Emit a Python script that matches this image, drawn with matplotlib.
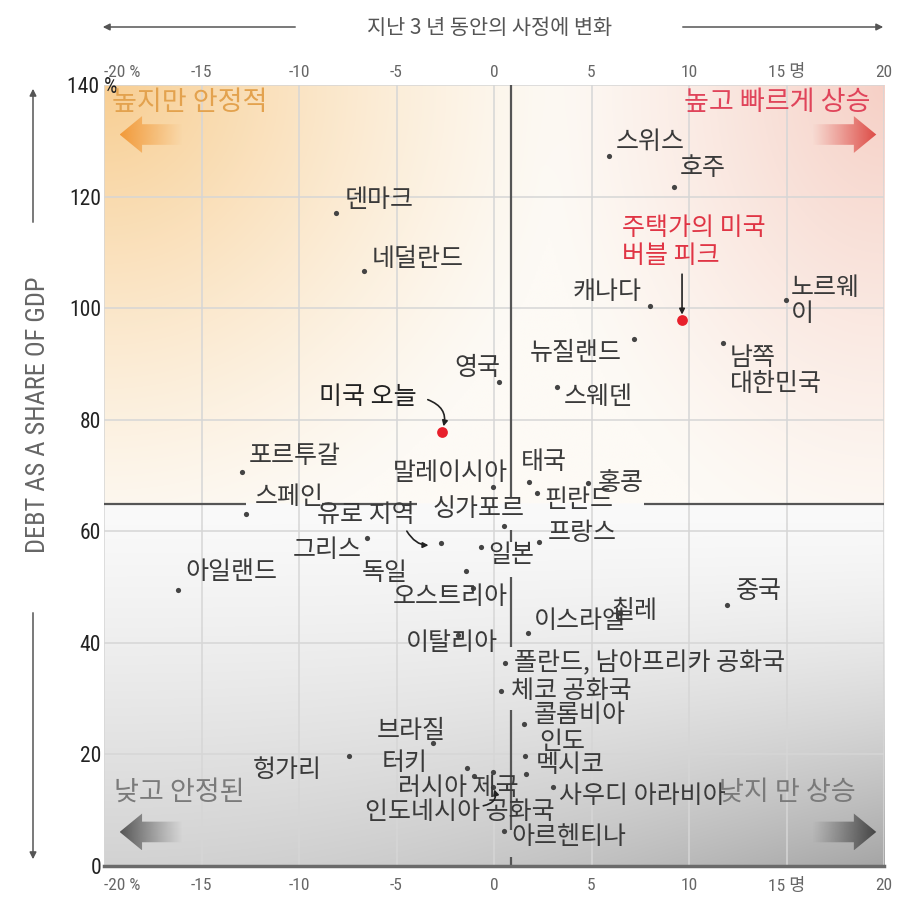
import numpy as np
import matplotlib
matplotlib.use("Agg")
import matplotlib.pyplot as plt
from matplotlib.patches import Polygon, FancyArrowPatch
from matplotlib.transforms import ScaledTranslation
from matplotlib import font_manager

plt.rcParams['font.family'] = ['Noto Sans CJK KR', 'DejaVu Sans']

# change over the last 3 years (x) vs household debt as share of GDP (y)
countries = ['스위스', '호주', '덴마크', '네덜란드', '캐나다', '노르웨\n이', '뉴질랜드',
             '남쪽\n대한민국', '영국', '스웨덴', '포르투갈', '스페인', '아일랜드',
             '말레이시아', '태국', '홍콩', '핀란드', '싱가포르', '유로 지역', '그리스',
             '일본', '프랑스', '독일', '오스트리아', '중국', '칠레', '이스라엘', '이탈리아',
             '폴란드, 남아프리카 공화국', '체코 공화국', '콜롬비아', '인도', '멕시코',
             '사우디 아라비아', '아르헨티나', '브라질', '헝가리', '터키', '러시아 제국', '',
             '인도네시아 공화국']
change = [5.9, 9.24, -8.09, -6.69, 7.99, 14.98, 7.17,
          11.74, 0.23, 3.23, -12.9, -12.7, -16.2,
          -0.03, 1.78, 4.83, 2.2, 0.51, -2.73, -6.49,
          -0.65, 2.3, -1.44, -1.07, 11.96, 6.45, 1.72, -1.83,
          0.54, 0.34, 1.51, 1.59, 1.63,
          3.04, 0.51, -3.11, -7.45, -1.39, -1.04, -0.04,
          -0.04]
debt = [127.4, 121.7, 117.1, 106.7, 100.4, 101.5, 94.5,
        93.8, 86.8, 86.0, 70.7, 63.1, 49.5,
        68.0, 68.9, 68.7, 66.9, 60.9, 57.9, 58.8,
        57.2, 58.1, 52.9, 49.9, 46.8, 45.3, 41.7, 41.4,
        36.4, 31.4, 25.4, 19.7, 16.5,
        14.1, 6.2, 22.0, 19.7, 17.5, 16.1, 16.9,
        14.2]

us_labels = ['미국 오늘', '주택가의 미국\n버블 피크']
us_change = [-2.68, 9.64]
us_debt = [77.9, 97.9]

x_ticks = [-20, -15, -10, -5, 0, 5, 10, 15, 20]
x_ticklabels = ['-20 %', '-15', '-10', '-5', '0', '5', '10', '15 명', '20']
y_ticks = [0, 20, 40, 60, 80, 100, 120, 140]
y_ticklabels = ['0', '20', '40', '60', '80', '100', '120', '140 %']

divider_x = 0.85
divider_y = 65

# label placement: (dx px, dy px, ha)
label_pos = [(7, 14, 'left'), (6, 19, 'left'), (8, 13, 'left'), (8, 12, 'left'),
             (-8, 14, 'right'), (5, -1, 'left'), (-12, -14, 'right'),
             (7, -28, 'left'), (2, 14, 'right'), (7, -10, 'left'), (6, 16, 'left'),
             (8, 17, 'left'), (7, 18, 'left'),
             (-43, 14, 'center'), (-8, 20, 'left'), (10, 0, 'left'), (7, -7, 'left'),
             (-25, 17, 'center'), (-26, 28, 'right'), (-6, -12, 'right'),
             (7, -8, 'left'), (9, 9, 'left'), (-58, -2, 'right'), (-23, -9, 'center'),
             (8, 14, 'left'), (15, 2, 'center'), (6, 12, 'left'), (-6, -8, 'center'),
             (9, 0, 'left'), (10, 0, 'left'), (10, 9, 'left'), (14, 14, 'left'),
             (10, 9, 'left'), (6, -9, 'left'), (7, -6, 'left'), (12, 12, 'right'),
             (-27, -14, 'right'), (-39, 5, 'right'), (-15, -12, 'center'), (0, 0, 'left'),
             (-33, -25, 'center')]

installed = {f.name for f in font_manager.fontManager.ttflist}
narrow_name = next((n for n in ['Liberation Sans Narrow', 'DejaVu Sans Condensed',
                                'Roboto Condensed', 'Open Sans Condensed']
                    if n in installed), 'Liberation Sans')
narrow = [narrow_name, 'Noto Sans CJK KR']

fig = plt.figure(figsize=(9, 9.15), dpi=100)
ax = fig.add_axes([0.1156, 0.0536, 0.8667, 0.853])
ax.set_xlim(-20, 20)
ax.set_ylim(0, 140)

# background gradient
nx, ny = 400, 700
gx = np.linspace(-20, 20, nx)
gy = np.linspace(0, 140, ny)
X, Y = np.meshgrid(gx, gy)
t = (X + 20) / 40
up = Y >= divider_y
u = np.clip((Y - divider_y) / (140 - divider_y), 0, 1)
wo = np.clip(1 - np.hypot(t / 0.6, (1 - u) / 1.15), 0, 1) ** 1.3
wr = np.clip(1 - np.hypot((1 - t) / 0.45, (1 - u) / 1.15), 0, 1) ** 1.3
base = np.array([253, 250, 245]) / 255
orange = np.array([248, 206, 146]) / 255
pink = np.array([246, 208, 198]) / 255
upper = base * (1 - wo - wr)[..., None] + orange * wo[..., None] + pink * wr[..., None]
v = np.clip((divider_y - Y) / divider_y, 0, 1)
g = (250 - 40 * v ** 1.3 - 45 * (v ** 2) * (t ** 2)) / 255
lower = np.stack([g, g, g], axis=-1)
img = np.where(up[..., None], upper, lower)
ax.imshow(img, extent=[-20, 20, 0, 140], origin='lower', aspect='auto', zorder=0)

ax.set_xticks(x_ticks)
ax.set_yticks(y_ticks)
ax.grid(True, color='#d6d6d6', lw=1.1, zorder=1)
ax.set_axisbelow(False)
for s in ['top', 'right', 'left']:
    ax.spines[s].set_visible(False)
ax.spines['bottom'].set_color('#6a6a6a')
ax.spines['bottom'].set_linewidth(2.5)
ax.spines['bottom'].set_zorder(3)
ax.tick_params(length=0)
ax.tick_params(axis='x', pad=9, labelcolor='#666666')
ax.tick_params(axis='y', pad=2, labelcolor='#222222')
ax.set_xticklabels(x_ticklabels, family=narrow, fontsize=12.5)
ax.set_yticklabels(y_ticklabels, family=narrow, fontsize=15.5)
ax.xaxis.get_major_ticks()[0].label1.set_ha('left')
top_lab = ax.yaxis.get_major_ticks()[-1].label1
top_lab.set_transform(top_lab.get_transform() + ScaledTranslation(0.16, 0, fig.dpi_scale_trans))

sec = ax.secondary_xaxis('top')
sec.set_xticks(x_ticks)
sec.set_xticklabels(x_ticklabels, family=narrow, fontsize=12.5)
sec.tick_params(length=0, pad=4, labelcolor='#666666')
sec.spines['top'].set_visible(False)
sec.xaxis.get_major_ticks()[0].label2.set_ha('left')

# quadrant dividers (broken behind labels)
for y0, y1 in [(66.2, 140), (58.1, 60.3), (39.3, 51.8), (6.5, 28.0), (0, 1.6)]:
    ax.plot([divider_x, divider_x], [y0, y1], color='#555555', lw=1.6, zorder=3,
            solid_capstyle='butt')
for x0, x1 in [(-20, -12.7), (-8.8, -3.95), (7.7, 20)]:
    ax.plot([x0, x1], [divider_y, divider_y], color='#555555', lw=1.6, zorder=3,
            solid_capstyle='butt')


def fat_arrow(x_tail, x_tip, yc, color):
    head_len = 1.15
    head_half = 3.3
    shaft_half = 1.85
    d = np.sign(x_tip - x_tail)
    hb = x_tip - d * head_len
    pts = [(x_tail, yc - shaft_half), (hb, yc - shaft_half), (hb, yc - head_half),
           (x_tip, yc), (hb, yc + head_half), (hb, yc + shaft_half),
           (x_tail, yc + shaft_half)]
    poly = Polygon(pts, closed=True, facecolor='none', edgecolor='none')
    ax.add_patch(poly)
    grad = np.zeros((2, 100, 4))
    grad[..., :3] = matplotlib.colors.to_rgb(color)
    a = np.linspace(0, 1, 100) ** 1.1
    grad[..., 3] = a if d > 0 else a[::-1]
    lo, hi = min(x_tail, x_tip), max(x_tail, x_tip)
    im = ax.imshow(grad, extent=[lo, hi, yc - head_half, yc + head_half],
                   aspect='auto', zorder=2, interpolation='bilinear')
    im.set_clip_path(poly)


fat_arrow(-16.0, -19.2, 131.2, '#f29a3a')
fat_arrow(16.3, 19.6, 131.2, '#dd4a45')
fat_arrow(-16.0, -19.2, 6.1, '#555555')
fat_arrow(16.3, 19.6, 6.1, '#444444')

qfont = 19.5
ax.text(0.010, 0.978, '높지만 안정적', transform=ax.transAxes, fontsize=qfont,
        color='#e3a24e', ha='left', va='center', zorder=4)
ax.text(0.983, 0.978, '높고 빠르게 상승', transform=ax.transAxes, fontsize=qfont,
        color='#e0445a', ha='right', va='center', zorder=4)
ax.text(0.013, 0.094, '낮고 안정된', transform=ax.transAxes, fontsize=qfont,
        color='#7a7a7a', ha='left', va='center', zorder=4)
ax.text(0.963, 0.094, '낮지 만 상승', transform=ax.transAxes, fontsize=qfont,
        color='#7a7a7a', ha='right', va='center', zorder=4)

# points
ax.scatter(change, debt, s=14, color='#444444', zorder=5, linewidths=0)
ax.scatter(us_change, us_debt, s=60, color='#e8202c', zorder=5, linewidths=0)

lab_font = 18
for name, x, y, (dx, dy, ha) in zip(countries, change, debt, label_pos):
    if not name:
        continue
    ax.annotate(name, xy=(x, y), xytext=(dx, dy), textcoords='offset pixels',
                ha=ha, va='center', fontsize=lab_font, color='#3a3a3a', zorder=6,
                linespacing=1.02)

# US labels
ax.annotate(us_labels[0], xy=(us_change[0], us_debt[0]), xytext=(-25, 35),
            textcoords='offset pixels', ha='right', va='center', fontsize=lab_font,
            color='#222222', zorder=6)
ax.annotate(us_labels[1], xy=(us_change[1], us_debt[1]), xytext=(-60, 78),
            textcoords='offset pixels', ha='left', va='center', fontsize=lab_font,
            color='#e03545', zorder=6, linespacing=1.1)

arrow_kw = dict(arrowstyle='-|>', color='#222222', lw=1.2, mutation_scale=8,
                shrinkA=0, shrinkB=4)
ax.annotate('', xy=(us_change[0], us_debt[0]), xytext=(-14, 32),
            textcoords='offset pixels',
            arrowprops=dict(connectionstyle='arc3,rad=-0.5', **arrow_kw), zorder=6)
ax.annotate('', xy=(us_change[1], us_debt[1]), xytext=(0, 46),
            textcoords='offset pixels',
            arrowprops=dict(connectionstyle='arc3,rad=0', **arrow_kw), zorder=6)
euro = countries.index('유로 지역')
ax.annotate('', xy=(change[euro], debt[euro]), xytext=(-34, 12),
            textcoords='offset pixels',
            arrowprops=dict(connectionstyle='arc3,rad=0.4',
                            **dict(arrow_kw, shrinkB=9)), zorder=6)
indo = countries.index('인도네시아 공화국')
ax.annotate('', xy=(change[indo], debt[indo]), xytext=(-10, -19),
            textcoords='offset pixels',
            arrowprops=dict(connectionstyle='arc3,rad=0.6',
                            **dict(arrow_kw, shrinkB=2)), zorder=6)

# outer titles and axis arrows
fig.text(0.544, 0.969, '지난 3 년 동안의 사정에 변화', ha='center', va='center',
         fontsize=15, color='#555555')
akw = dict(arrowstyle='-|>', color='#555555', lw=1.1, mutation_scale=10,
           transform=fig.transFigure)
fig.add_artist(FancyArrowPatch((298 / 900, 1 - 27 / 915), (100 / 900, 1 - 27 / 915), **akw))
fig.add_artist(FancyArrowPatch((680 / 900, 1 - 27 / 915), (886 / 900, 1 - 27 / 915), **akw))
fig.add_artist(FancyArrowPatch((33 / 900, 1 - 225 / 915), (33 / 900, 1 - 86 / 915), **akw))
fig.add_artist(FancyArrowPatch((33 / 900, 1 - 610 / 915), (33 / 900, 1 - 862 / 915), **akw))
fig.text(38 / 900, 1 - 415 / 915, 'DEBT AS A SHARE OF GDP', rotation=90,
         ha='center', va='center', fontsize=19, color='#666666',
         family=[narrow_name, 'DejaVu Sans'])

fig.savefig('out.png', dpi=100)
